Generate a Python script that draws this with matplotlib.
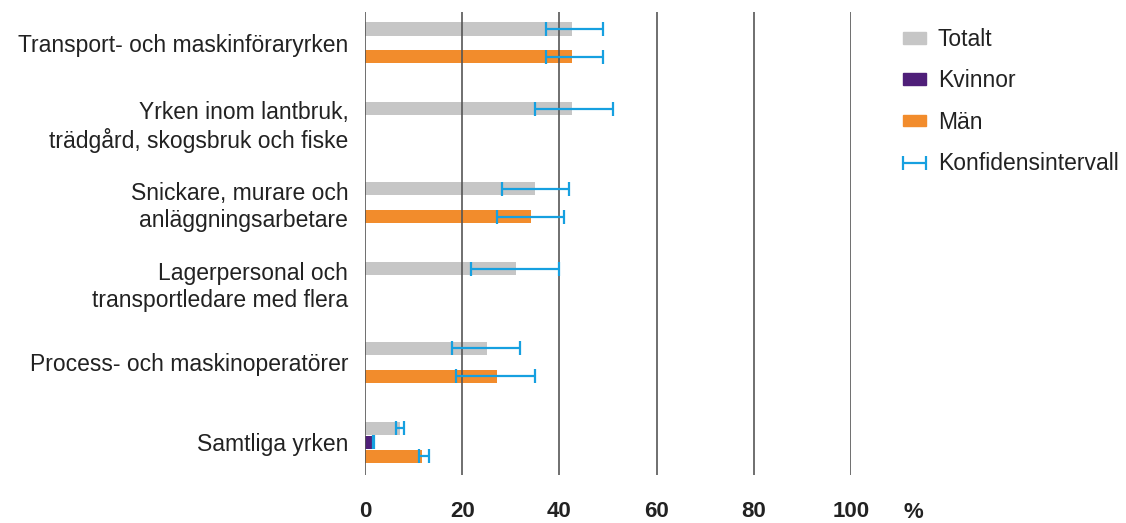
import matplotlib.pyplot as plt
import numpy as np
from matplotlib.patches import Patch

plt.rcParams["font.family"] = ["Liberation Sans", "DejaVu Sans"]

categories = [
    "Transport- och maskinföraryrken",
    "Yrken inom lantbruk,\nträdgård, skogsbruk och fiske",
    "Snickare, murare och\nanläggningsarbetare",
    "Lagerpersonal och\ntransportledare med flera",
    "Process- och maskinoperatörer",
    "Samtliga yrken",
]

# values in percent, None = not shown
totalt = [42.6, 42.6, 34.9, 31.1, 25.0, 7.2]
totalt_lo = [37.3, 34.9, 28.1, 21.8, 18.0, 6.4]
totalt_hi = [48.9, 51.0, 41.9, 39.9, 31.9, 8.0]

kvinnor = [None, None, None, None, None, 1.6]
kvinnor_lo = [None, None, None, None, None, 1.7]
kvinnor_hi = [None, None, None, None, None, 1.9]

man = [42.6, None, 34.1, None, 27.2, 11.8]
man_lo = [37.3, None, 27.2, None, 18.8, 11.1]
man_hi = [48.9, None, 41.0, None, 35.0, 13.1]

c_tot = "#c6c6c6"
c_kv = "#4f1f79"
c_man = "#f28c2c"
c_ci = "#16a0e0"
c_txt = "#222222"

fig = plt.figure(figsize=(11.26, 5.23), dpi=100)
ax = fig.add_axes([365 / 1126, 1 - 475 / 523, (851 - 365) / 1126, (475 - 12) / 523])

y = np.arange(len(categories))
off = 0.175
h = 0.167

series = [
    (totalt, totalt_lo, totalt_hi, -off, c_tot),
    (kvinnor, kvinnor_lo, kvinnor_hi, 0.0, c_kv),
    (man, man_lo, man_hi, off, c_man),
]
ci_handle = None
for vals, lo, hi, dy, col in series:
    for i, v in enumerate(vals):
        if v is None:
            continue
        yy = y[i] + dy
        ax.barh(yy, v, height=h, color=col, zorder=1)
        ci_handle = ax.errorbar(
            (lo[i] + hi[i]) / 2, yy, xerr=(hi[i] - lo[i]) / 2,
            fmt="none", ecolor=c_ci, elinewidth=1.6, capsize=5,
            capthick=1.6, zorder=3,
        )

for gx in [0, 20, 40, 60, 80, 100]:
    ax.axvline(gx, color="#555555", lw=1.4, alpha=0.85, zorder=2)

ax.set_xlim(0, 100)
ax.set_ylim(5.41, -0.386)
for s in ax.spines.values():
    s.set_visible(False)
ax.set_yticks(y)
ax.set_yticklabels(categories, fontsize=16.5, color=c_txt, linespacing=1.2)
ax.tick_params(axis="y", length=0, pad=12)
ax.set_xticks([0, 20, 40, 60, 80, 100])
ax.set_xticklabels(["0", "20", "40", "60", "80", "100"], fontsize=16,
                   fontweight="bold", color=c_txt)
ax.tick_params(axis="x", length=0, pad=19)
fig.text(913 / 1126, 1 - 512 / 523, "%", fontsize=16, fontweight="bold",
         color=c_txt, ha="center", va="center")

handles = [Patch(color=c_tot), Patch(color=c_kv), Patch(color=c_man), ci_handle]
leg = fig.legend(
    handles, ["Totalt", "Kvinnor", "Män", "Konfidensintervall"],
    loc="upper left", bbox_to_anchor=(903 / 1126, 1 - 28 / 523),
    frameon=False, fontsize=16.5, labelspacing=0.8, handlelength=1.0,
    handleheight=0.4, handletextpad=0.52, borderpad=0, borderaxespad=0,
)
for t in leg.get_texts():
    t.set_color(c_txt)

fig.savefig("out.png", dpi=100)
